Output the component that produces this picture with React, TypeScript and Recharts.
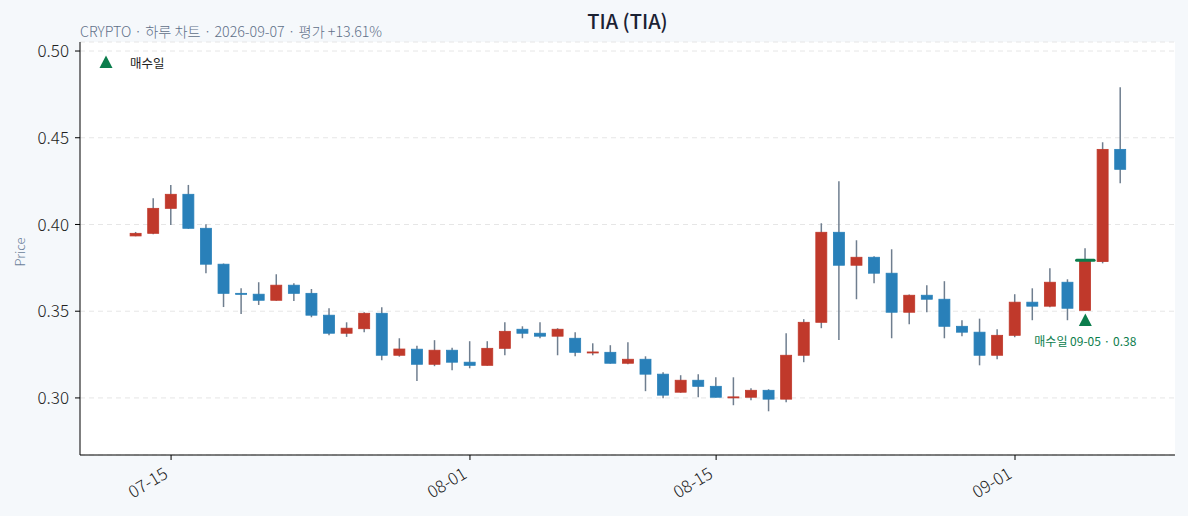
import { ComposedChart, Bar, Scatter, XAxis, YAxis, CartesianGrid, ReferenceLine } from 'recharts'

const dates = [
  '07-13', '07-14', '07-15', '07-16', '07-17', '07-18', '07-19', '07-20', '07-21', '07-22',
  '07-23', '07-24', '07-25', '07-26', '07-27', '07-28', '07-29', '07-30', '07-31', '08-01',
  '08-02', '08-03', '08-04', '08-05', '08-06', '08-07', '08-08', '08-09', '08-10', '08-11',
  '08-12', '08-13', '08-14', '08-15', '08-16', '08-17', '08-18', '08-19', '08-20', '08-21',
  '08-22', '08-23', '08-24', '08-25', '08-26', '08-27', '08-28', '08-29', '08-30', '08-31',
  '09-01', '09-02', '09-03', '09-04', '09-05', '09-06', '09-07',
]
const opens = [
  0.3934, 0.3949, 0.4093, 0.4174, 0.3978, 0.3771, 0.3603, 0.3598, 0.3563, 0.365,
  0.3603, 0.3477, 0.3373, 0.3399, 0.3488, 0.3246, 0.3281, 0.3194, 0.3275, 0.3206,
  0.3188, 0.3286, 0.3396, 0.3373, 0.3356, 0.3344, 0.3262, 0.3263, 0.32, 0.3223,
  0.3137, 0.3033, 0.3102, 0.3067, 0.3003, 0.3004, 0.3044, 0.2993, 0.3246, 0.3436,
  0.3955, 0.3765, 0.3811, 0.3719, 0.3494, 0.3592, 0.3569, 0.3413, 0.3379, 0.3246,
  0.3361, 0.3552, 0.3529, 0.3667, 0.3505, 0.3786, 0.4433,
]
const highs = [
  0.3957, 0.4151, 0.4228, 0.4228, 0.4001, 0.3775, 0.3632, 0.3667, 0.3713, 0.3661,
  0.3628, 0.3517, 0.3436, 0.3494, 0.3523, 0.3344, 0.3301, 0.3333, 0.329, 0.3327,
  0.3327, 0.3436, 0.3413, 0.3436, 0.3402, 0.3379, 0.3315, 0.3304, 0.3321, 0.324,
  0.3148, 0.3131, 0.3137, 0.3119, 0.3119, 0.3056, 0.305, 0.3373, 0.3454, 0.4007,
  0.4249, 0.3909, 0.3817, 0.3857, 0.3596, 0.365, 0.3673, 0.3448, 0.3457, 0.3396,
  0.3598, 0.3632, 0.3748, 0.3684, 0.3863, 0.4474, 0.4791,
]
const lows = [
  0.3932, 0.3943, 0.3997, 0.3975, 0.3719, 0.3524, 0.3484, 0.3536, 0.356, 0.3559,
  0.3465, 0.3361, 0.3352, 0.3379, 0.3217, 0.3238, 0.3098, 0.3183, 0.316, 0.3171,
  0.3186, 0.3246, 0.3344, 0.3344, 0.3246, 0.324, 0.3246, 0.3198, 0.3194, 0.3039,
  0.2998, 0.303, 0.3004, 0.3002, 0.2958, 0.2987, 0.2923, 0.2975, 0.3206, 0.3402,
  0.3334, 0.3569, 0.3661, 0.3344, 0.3425, 0.3494, 0.3344, 0.3356, 0.3188, 0.3223,
  0.335, 0.3448, 0.3523, 0.3448, 0.3503, 0.3776, 0.4237,
]
const closes = [
  0.3949, 0.4093, 0.4174, 0.3978, 0.3771, 0.3603, 0.3598, 0.3563, 0.365, 0.3603,
  0.3477, 0.3373, 0.3402, 0.3488, 0.3246, 0.3282, 0.3194, 0.3275, 0.3206, 0.3188,
  0.3286, 0.3384, 0.3373, 0.3356, 0.3396, 0.3263, 0.3265, 0.32, 0.3223, 0.3137,
  0.3016, 0.3102, 0.3067, 0.3004, 0.3006, 0.3044, 0.2993, 0.3246, 0.3436, 0.3955,
  0.3765, 0.3811, 0.3719, 0.3494, 0.3592, 0.3569, 0.3413, 0.3379, 0.3246, 0.3361,
  0.3552, 0.3529, 0.3667, 0.3517, 0.3794, 0.4433, 0.4318,
]

const buyIndex = 54
const buyPrice = 0.3794
const buyMarkerValue = 0.345

const xTicks = [2, 19, 33, 50]
const yTicks = [0.3, 0.35, 0.4, 0.45, 0.5]

const UP = '#c0392b'
const DOWN = '#2980b9'
const WICK = '#6f7e8f'
const BUY = '#0b7d4c'
const FONT = "'Noto Sans CJK KR', 'Noto Sans', sans-serif"

const data = dates.map((date, i) => ({
  t: i,
  date,
  open: opens[i],
  high: highs[i],
  low: lows[i],
  close: closes[i],
  range: [lows[i], highs[i]],
}))

const buyData = [{ t: buyIndex, v: buyMarkerValue }]

function Candle(props: any) {
  const { x, y, width, height, payload } = props
  const { open, close, high, low } = payload
  const top = Math.min(y, y + height)
  const h = Math.abs(height)
  const cx = x + width / 2
  const toY = (v: number) => top + ((high - v) / (high - low)) * h
  const bodyTop = toY(Math.max(open, close))
  const bodyBot = toY(Math.min(open, close))
  const color = close >= open ? UP : DOWN
  return (
    <g>
      <line x1={cx} x2={cx} y1={top} y2={top + h} stroke={WICK} strokeWidth={1.5} />
      <rect x={x} y={bodyTop} width={width} height={Math.max(bodyBot - bodyTop, 1)} fill={color} stroke={color} strokeWidth={0.8} />
    </g>
  )
}

function BuyMarker(props: any) {
  const { cx, cy } = props
  return (
    <g>
      <path d={`M${cx},${cy - 6.5} L${cx + 6.5},${cy + 6} L${cx - 6.5},${cy + 6} Z`} fill={BUY} />
      <text x={cx} y={cy + 26} textAnchor="middle" fontSize={12} fill={BUY} fontFamily={FONT}>
        {`매수일 ${dates[buyIndex]} · ${buyPrice.toFixed(2)}`}
      </text>
    </g>
  )
}

function XTick(props: any) {
  const { x, y, payload } = props
  return (
    <g transform={`translate(${x - 2},${y + 15})`}>
      <text x={0} y={0} textAnchor="end" transform="rotate(-31)" fontSize={17} fontWeight={300} fill="#222" fontFamily={FONT}>
        {dates[payload.value]}
      </text>
    </g>
  )
}

export default function App() {
  return (
    <div style={{ position: 'fixed', left: 0, top: 0, width: 1188, height: 516, background: '#f5f8fb', fontFamily: FONT }}>
      <div style={{ position: 'absolute', left: 0, width: 1255, top: 11, lineHeight: '20px', textAlign: 'center', fontSize: 20, color: '#1b2233', fontWeight: 500 }}>
        TIA (TIA)
      </div>
      <div style={{ position: 'absolute', left: 80, top: 24, lineHeight: '14px', fontSize: 14.2, color: '#5f7089', fontWeight: 300 }}>
        CRYPTO · 하루 차트 · 2026-09-07 · 평가 +13.61%
      </div>
      <div style={{ position: 'absolute', left: 19, top: 252, lineHeight: '13px', transform: 'translate(-50%, -50%) rotate(-90deg)', fontSize: 13, color: '#6b7f99', fontWeight: 300 }}>
        Price
      </div>
      <ComposedChart width={1188} height={516} data={data} margin={{ top: 42, right: 13, bottom: 0, left: 0 }}>
        <CartesianGrid vertical={false} stroke="#e6e6e6" strokeDasharray="5 4" fill="#ffffff" />
        <XAxis
          type="number"
          dataKey="t"
          domain={[-3.18, 59.1]}
          ticks={xTicks}
          allowDataOverflow
          height={61}
          tickSize={5}
          tickMargin={2}
          stroke="#000"
          tick={<XTick />}
        />
        <YAxis
          type="number"
          domain={[0.2671, 0.5052]}
          ticks={yTicks}
          allowDataOverflow
          width={80}
          tickSize={5}
          tickMargin={6}
          stroke="#000"
          tickFormatter={(v: number) => v.toFixed(2)}
          tick={{ fontSize: 17, fill: '#222', fontFamily: FONT, fontWeight: 300 }}
        />
        <Bar dataKey="range" barSize={11} shape={<Candle />} isAnimationActive={false} />
        <ReferenceLine
          segment={[{ x: buyIndex - 0.5, y: buyPrice }, { x: buyIndex + 0.5, y: buyPrice }]}
          stroke={BUY}
          strokeWidth={3}
          strokeLinecap="round"
        />
        <Scatter data={buyData} dataKey="v" shape={<BuyMarker />} isAnimationActive={false} />
      </ComposedChart>
      <svg style={{ position: 'absolute', left: 99, top: 55 }} width={14} height={14}>
        <path d="M7,0.5 L13.5,13 L0.5,13 Z" fill={BUY} />
      </svg>
      <div style={{ position: 'absolute', left: 130, top: 55.5, lineHeight: '13px', fontSize: 12.5, color: '#222' }}>매수일</div>
    </div>
  )
}
